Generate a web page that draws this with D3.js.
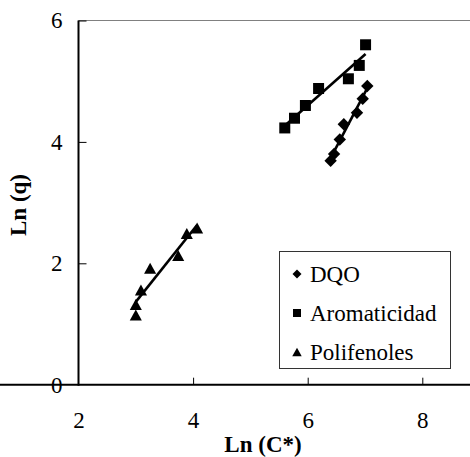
<!DOCTYPE html>
<html>
<head>
<meta charset="utf-8">
<script src="https://cdn.jsdelivr.net/npm/d3@7"></script>
<style>
  body { margin: 0; background: #fff; }
</style>
</head>
<body>
<div id="chart"></div>
<script>
// values
const dqoX = [6.40, 6.46, 6.56, 6.63, 6.86, 6.96, 7.04];
const dqoY = [3.69, 3.80, 4.04, 4.29, 4.48, 4.71, 4.92];
const aromX = [5.60, 5.77, 5.96, 6.19, 6.71, 6.90, 7.01];
const aromY = [4.23, 4.39, 4.60, 4.88, 5.04, 5.26, 5.60];
const poliX = [3.00, 3.00, 3.09, 3.25, 3.74, 3.89, 4.07];
const poliY = [1.15, 1.32, 1.56, 1.92, 2.13, 2.49, 2.58];
const seriesNames = ["DQO", "Aromaticidad", "Polifenoles"];
const xTicks = [2, 4, 6, 8];
const yTicks = [0, 2, 4, 6];

const FONT = '"Liberation Serif", serif';
const FS = "23px";
const width = 470, height = 457;
const svg = d3.select("#chart").append("svg").attr("width", width).attr("height", height)
    .style("display", "block");

const x = d3.scaleLinear().domain([2, 9]).range([78.5, 479.6]);
const y = d3.scaleLinear().domain([0, 6]).range([384.7, 20.5]);

// marker shapes
const shapes = {
    diamond: s => `M0,${-s}L${s},0L0,${s}L${-s},0Z`,
    square: s => `M${-s},${-s}H${s}V${s}H${-s}Z`,
    triangle: s => `M0,${-s}L${s * 1.1},${s}L${-s * 1.1},${s}Z`
};
const series = [
    { name: seriesNames[0], xs: dqoX, ys: dqoY, shape: "diamond", size: 6.2, legendSize: 4.5 },
    { name: seriesNames[1], xs: aromX, ys: aromY, shape: "square", size: 5.5, legendSize: 4 },
    { name: seriesNames[2], xs: poliX, ys: poliY, shape: "triangle", size: 5.5, legendSize: 4.3 }
];

// frame: grey top line, black left and bottom axes
svg.append("line").attr("x1", x(2)).attr("x2", width).attr("y1", y(6)).attr("y2", y(6))
    .attr("stroke", "#808080").attr("stroke-width", 1);

const xAxis = svg.append("g").attr("transform", `translate(0,${y(0)})`)
    .call(d3.axisBottom(x).tickValues(xTicks).tickSizeInner(-7).tickSizeOuter(0).tickPadding(27).tickFormat(d3.format("d")));
const yAxis = svg.append("g").attr("transform", `translate(${x(2)},0)`)
    .call(d3.axisLeft(y).tickValues(yTicks).tickSizeInner(-8).tickSizeOuter(0).tickPadding(16).tickFormat(d3.format("d")));
[xAxis, yAxis].forEach(g => {
    g.attr("font-family", null).attr("font-size", null);
    g.select(".domain").attr("stroke", "#000").attr("stroke-width", 2);
    g.selectAll(".tick line").attr("stroke", "#000").attr("stroke-width", 1);
    g.selectAll(".tick text").style("font-family", FONT).style("font-size", FS).attr("fill", "#000");
});
xAxis.selectAll(".tick").filter(d => d === 2).select("line").remove();
yAxis.selectAll(".tick").filter(d => d === 0).select("line").remove();
yAxis.select(".domain").attr("d", `M0,${y(0) + 1}V${y(6)}`);
xAxis.select(".domain").attr("d", `M-1,0H${width}`);

// trend lines (least squares over each series)
series.forEach(s => {
    const mx = d3.mean(s.xs), my = d3.mean(s.ys);
    const sxy = d3.sum(s.xs, (v, i) => (v - mx) * (s.ys[i] - my));
    const sxx = d3.sum(s.xs, v => (v - mx) ** 2);
    const b = sxy / sxx, a = my - b * mx;
    const [x0, x1] = d3.extent(s.xs);
    svg.append("line")
        .attr("x1", x(x0)).attr("y1", y(a + b * x0))
        .attr("x2", x(x1)).attr("y2", y(a + b * x1))
        .attr("stroke", "#000").attr("stroke-width", 2.6);
});

// markers
series.forEach(s => {
    svg.append("g").selectAll("path").data(s.xs.map((v, i) => [v, s.ys[i]])).join("path")
        .attr("transform", d => `translate(${x(d[0])},${y(d[1])})`)
        .attr("d", shapes[s.shape](s.size))
        .attr("fill", "#000");
});

// axis titles
svg.append("text").attr("x", 263).attr("y", 452).attr("text-anchor", "middle")
    .style("font-family", FONT).style("font-size", FS).style("font-weight", "bold").text("Ln (C*)");
svg.append("text").attr("transform", "translate(26,205) rotate(-90)").attr("text-anchor", "middle")
    .style("font-family", FONT).style("font-size", FS).style("font-weight", "bold").text("Ln (q)");

// legend
const legend = svg.append("g");
legend.append("rect").attr("x", 279.5).attr("y", 251.5).attr("width", 171).attr("height", 117)
    .attr("fill", "#fff").attr("stroke", "#333").attr("stroke-width", 1);
const rowY = d3.scalePoint().domain(seriesNames).range([274, 352]);
series.forEach(s => {
    const g = legend.append("g").attr("transform", `translate(297,${rowY(s.name)})`);
    g.append("path").attr("d", shapes[s.shape](s.legendSize)).attr("fill", "#000");
    g.append("text").attr("x", 13).attr("y", 7.5)
        .style("font-family", FONT).style("font-size", FS).text(s.name);
});
</script>
</body>
</html>
